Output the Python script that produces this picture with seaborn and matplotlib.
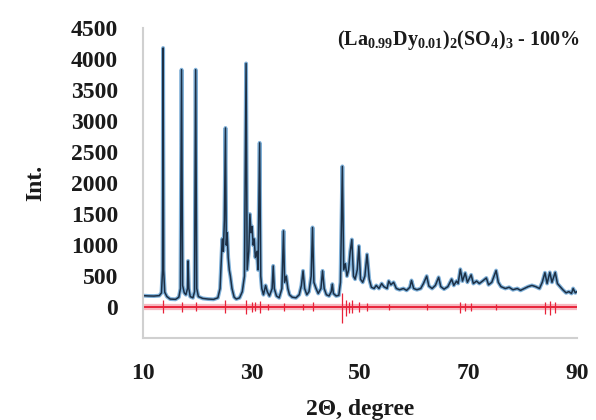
import matplotlib
matplotlib.use("Agg")
import matplotlib.pyplot as plt
import seaborn as sns
import pandas as pd

# Observed powder pattern: 2-theta (degree) and intensity
two_theta = [10.0, 11.0, 12.0, 13.0, 13.4, 13.6, 13.7, 13.8, 14.0, 14.4, 15.0, 16.0,
             16.6, 16.9, 17.1, 17.3, 17.6, 17.9, 18.2, 18.3, 18.45, 18.7, 19.2, 19.5,
             19.7, 19.9, 20.2, 21.0, 22.0, 23.0, 23.8, 24.2, 24.4, 24.6, 24.8, 25.0,
             25.2, 25.35, 25.5, 25.7, 25.9, 26.1, 26.4, 26.8, 27.2, 27.8, 28.3, 28.7,
             29.0, 29.2, 29.5, 29.7, 29.9, 30.1, 30.3, 30.5, 30.7, 31.0, 31.2, 31.5,
             31.7, 31.9, 32.2, 32.6, 32.9, 33.3, 33.8, 34.0, 34.2, 34.6, 35.1, 35.6,
             35.9, 36.1, 36.4, 36.7, 37.0, 37.5, 38.2, 38.8, 39.2, 39.5, 39.8, 40.2,
             40.6, 41.0, 41.25, 41.5, 41.9, 42.3, 42.8, 43.1, 43.4, 43.8, 44.3, 44.7,
             44.9, 45.1, 45.6, 46.1, 46.4, 46.75, 47.0, 47.3, 47.6, 47.9, 48.2, 48.5,
             48.8, 49.1, 49.5, 49.8, 50.1, 50.5, 50.9, 51.3, 51.7, 52.1, 52.6, 53.0,
             53.5, 54.0, 54.4, 55.0, 55.3, 55.7, 56.2, 56.7, 57.3, 58.0, 58.6, 59.2,
             59.5, 59.9, 60.5, 61.2, 61.7, 62.3, 62.7, 63.3, 63.9, 64.5, 64.9, 65.5,
             66.2, 66.9, 67.3, 67.8, 68.1, 68.5, 68.9, 69.4, 69.8, 70.5, 70.9, 71.5,
             72.0, 72.6, 73.3, 73.7, 74.3, 75.1, 75.5, 76.0, 76.8, 77.5, 78.2, 79.0,
             79.6, 80.3, 81.0, 81.7, 82.4, 83.1, 83.6, 84.1, 84.5, 85.0, 85.4, 86.0,
             86.4, 86.9, 87.4, 88.0, 88.5, 89.0, 89.3, 89.7, 90.0]
intensity = [185, 180, 178, 185, 230, 600, 4180, 600, 240, 170, 130, 125,
             160, 300, 3830, 350, 230, 200, 300, 745, 300, 170, 150, 250,
             3830, 300, 170, 140, 130, 125, 150, 300, 700, 1100, 900, 1400,
             2890, 1000, 1200, 800, 600, 500, 300, 160, 130, 150, 250, 500,
             3930, 600, 900, 1500, 1200, 1300, 1000, 1100, 800, 900, 600, 2650,
             500, 300, 200, 350, 250, 180, 300, 665, 300, 180, 150, 300,
             1230, 400, 500, 300, 200, 160, 150, 200, 350, 585, 300, 200,
             250, 500, 1285, 400, 300, 220, 300, 585, 300, 200, 180, 250,
             370, 220, 180, 190, 400, 2270, 600, 700, 500, 600, 900, 1090,
             500, 450, 600, 985, 450, 400, 500, 850, 450, 320, 300, 350,
             300, 380, 330, 300, 420, 360, 400, 300, 280, 300, 270, 320,
             430, 300, 280, 300, 380, 500, 340, 300, 350, 480, 330, 290,
             330, 450, 350, 420, 380, 610, 420, 550, 400, 520, 380, 420,
             380, 420, 470, 360, 400, 590, 400, 330, 300, 320, 280, 300,
             270, 300, 330, 350, 330, 300, 400, 555, 380, 560, 400, 560,
             380, 330, 280, 230, 250, 220, 300, 230, 250]

# Difference curve (observed - calculated): zero level plus residual spikes
diff_range = [10.0, 90.0]
diff_level = [0, 0]
spike_theta = [13.7, 17.1, 19.7, 25.2, 29.0, 30.0, 30.6, 31.5, 33.0, 35.9,
               39.5, 41.25, 46.75, 47.4, 48.0, 48.5, 49.8, 51.3, 55.3, 62.3,
               68.5, 69.4, 70.5, 75.1, 84.1, 85.0, 86.0]
spike_low = [-90, -80, -70, -100, -110, -80, -70, -90, -50, -60,
             -50, -70, -260, -140, -90, -100, -80, -60, -50, -50,
             -90, -70, -60, -50, -110, -120, -100]
spike_high = [120, 90, 80, 110, 120, 90, 80, 100, 50, 70,
              50, 80, 220, 120, 90, 110, 90, 70, 50, 50,
              80, 60, 60, 50, 90, 100, 90]

x_ticks = [10, 30, 50, 70, 90]
y_ticks = [0, 500, 1000, 1500, 2000, 2500, 3000, 3500, 4000, 4500]

sns.set_theme(style="white")
plt.rcParams["font.family"] = ["Liberation Serif", "DejaVu Serif"]
plt.rcParams["font.weight"] = "bold"
plt.rcParams["mathtext.fontset"] = "custom"
plt.rcParams["mathtext.rm"] = "Liberation Serif:bold"
plt.rcParams["mathtext.bf"] = "Liberation Serif:bold"
plt.rcParams["mathtext.it"] = "Liberation Serif:bold"

obs = pd.DataFrame({"two_theta": two_theta, "intensity": intensity})
dif = pd.DataFrame({"two_theta": diff_range, "intensity": diff_level})

fig = plt.figure(figsize=(5.96, 4.20), dpi=100)
ax = fig.add_axes([0.240, 0.195, 0.728, 0.738])

# calculated profile (light blue underlay), observed (dark), difference (red)
sns.lineplot(data=obs, x="two_theta", y="intensity", ax=ax, color="#7fb0d8",
             linewidth=2.8, estimator=None)
sns.lineplot(data=obs, x="two_theta", y="intensity", ax=ax, color="#1c2f45",
             linewidth=1.1, estimator=None)
sns.lineplot(data=dif, x="two_theta", y="intensity", ax=ax, color="#f7b8c0",
             linewidth=4.5, estimator=None)
sns.lineplot(data=dif, x="two_theta", y="intensity", ax=ax, color="#e8233a",
             linewidth=1.4, estimator=None)
ax.vlines(spike_theta, spike_low, spike_high, colors="#e8233a", linewidth=0.9)

ax.set_xlim(10, 90)
ax.set_ylim(-500, 4500)
ax.set_xticks(x_ticks)
ax.set_yticks(y_ticks)
ax.set_xticklabels([str(v) for v in x_ticks], fontsize=17, fontweight="bold")
ax.set_yticklabels([str(v) for v in y_ticks], fontsize=17, fontweight="bold")
ax.tick_params(axis="both", colors="#d0d0d0", labelcolor="#1a1a1a",
               length=4, width=1.2, direction="inout")
ax.tick_params(axis="y", pad=16)
ax.tick_params(axis="x", pad=16)

for side in ("top", "right"):
    ax.spines[side].set_visible(False)
for side in ("left", "bottom"):
    ax.spines[side].set_color("#d0d0d0")
    ax.spines[side].set_linewidth(1.5)

ax.set_xlabel("2\u0398, degree", fontsize=17, fontweight="bold", color="#1a1a1a",
              labelpad=11)
ax.set_ylabel("Int.", fontsize=17, fontweight="bold", color="#1a1a1a", labelpad=18)

fig.text(0.973, 0.905,
         r"$\mathbf{(La_{0.99}Dy_{0.01})_{2}(SO_{4})_{3}}$ - 100%",
         ha="right", va="center", fontsize=14.5, fontweight="bold", color="#1a1a1a")

fig.savefig("out.png", dpi=100)
